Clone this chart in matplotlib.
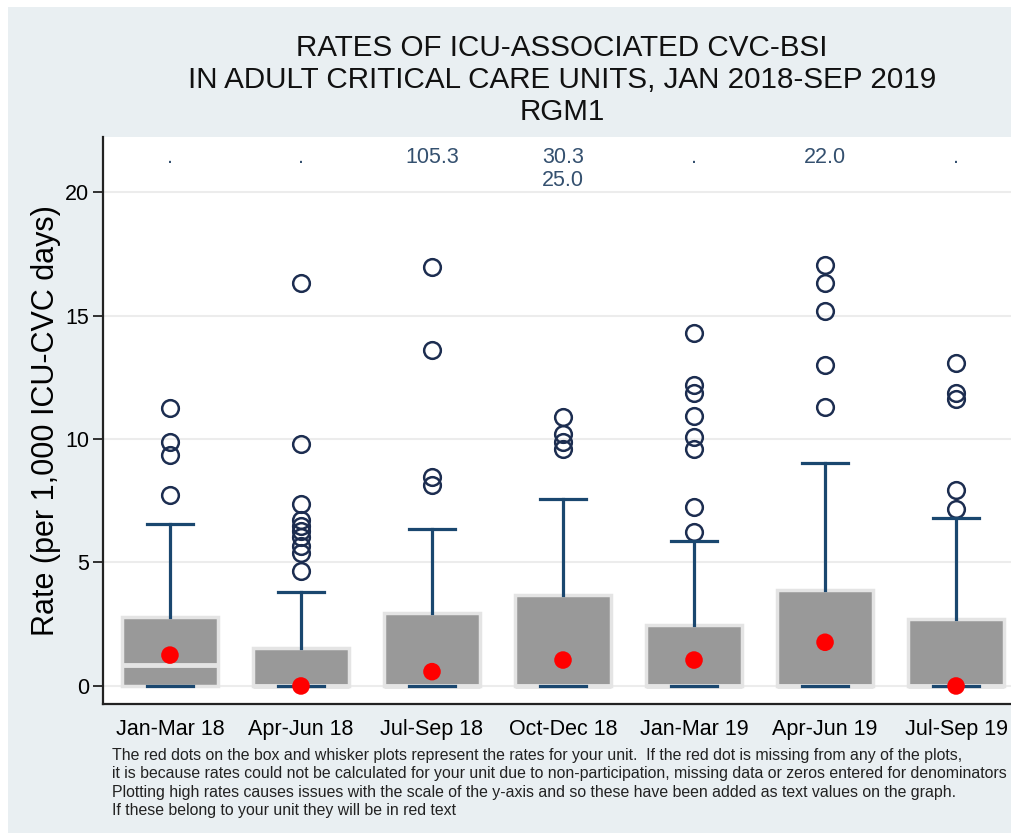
import matplotlib
matplotlib.use('Agg')
import matplotlib.pyplot as plt
from matplotlib.patches import Rectangle

plt.rcParams['font.family'] = ['Liberation Sans', 'DejaVu Sans']

# values
periods = ['Jan-Mar 18', 'Apr-Jun 18', 'Jul-Sep 18', 'Oct-Dec 18',
           'Jan-Mar 19', 'Apr-Jun 19', 'Jul-Sep 19']
q1 = [0, 0, 0, 0, 0, 0, 0]
medians = [0.85, 0, 0, 0, 0, 0, 0]
q3 = [2.78, 1.54, 2.94, 3.68, 2.46, 3.89, 2.70]
whisk_lo = [0, 0, 0, 0, 0, 0, 0]
whisk_hi = [6.56, 3.80, 6.37, 7.56, 5.86, 9.04, 6.82]
outliers = [
    [11.24, 9.88, 9.35, 7.73],
    [16.3, 9.8, 7.36, 6.72, 6.49, 6.28, 6.05, 5.68, 5.4, 4.66],
    [16.96, 13.6, 8.45, 8.12],
    [10.9, 10.2, 9.89, 9.58],
    [14.29, 12.18, 11.85, 10.93, 10.1, 9.58, 7.26, 6.25],
    [17.04, 16.3, 15.2, 13.0, 11.31],
    [13.08, 11.87, 11.64, 7.94, 7.15],
]
unit_rate = [1.25, 0.0, 0.58, 1.05, 1.05, 1.77, 0.0]
high_rates = [[], [], ['105.3'], ['30.3', '25.0'], [], ['22.0'], []]

title = ('RATES OF ICU-ASSOCIATED CVC-BSI\n'
         'IN ADULT CRITICAL CARE UNITS, JAN 2018-SEP 2019\nRGM1')
note = ('The red dots on the box and whisker plots represent the rates for your unit.  '
        'If the red dot is missing from any of the plots,\n'
        'it is because rates could not be calculated for your unit due to non-participation, '
        'missing data or zeros entered for denominators\n'
        'Plotting high rates causes issues with the scale of the y-axis and so these have been '
        'added as text values on the graph.\n'
        'If these belong to your unit they will be in red text')

navy = '#1a476f'
bg = '#e9eff2'

fig = plt.figure(figsize=(10.12, 8.34), dpi=100)
fig.patch.set_facecolor('white')
fig.patches.append(Rectangle((8 / 1012, 1 / 834), 1, 826 / 834, transform=fig.transFigure,
                             facecolor=bg, edgecolor='none', zorder=-10))

ax = fig.add_axes([103 / 1012, 130 / 834, 1 - 103 / 1012, 567 / 834])
ax.set_facecolor('white')

pos = list(range(1, len(periods) + 1))
stats = []
for i in range(len(periods)):
    stats.append({'label': periods[i], 'q1': q1[i], 'med': medians[i], 'q3': q3[i],
                  'whislo': whisk_lo[i], 'whishi': whisk_hi[i], 'fliers': outliers[i]})

ax.bxp(stats, positions=pos, widths=0.73, patch_artist=True, capwidths=0.35,
       boxprops=dict(facecolor='#999999', edgecolor='#e4e4e4', linewidth=2.5),
       medianprops=dict(color='#e4e4e4', linewidth=3.5, zorder=2.5),
       whiskerprops=dict(color=navy, linewidth=2.3),
       capprops=dict(color=navy, linewidth=2.3, zorder=3),
       flierprops=dict(marker='o', markerfacecolor='none', markeredgecolor='#1c2d50',
                       markersize=12, markeredgewidth=1.8))

ax.scatter(pos, unit_rate, s=160, color='#ff0000', zorder=5, edgecolors='none')

for i, vals in enumerate(high_rates):
    if not vals:
        vals = ['.']
    for j, v in enumerate(vals):
        ax.text(pos[i], 21.42 - 0.97 * j, v, ha='center', va='center',
                fontsize=15.5, color='#34506f')

ax.set_xlim(0.489, 7.427)
ax.set_ylim(-0.73, 22.23)
ax.set_yticks([0, 5, 10, 15, 20])
ax.set_xticks(pos)
ax.set_xticklabels(periods)
ax.tick_params(axis='y', length=7, width=1.3, labelsize=15.5, pad=3, color='#222222')
ax.tick_params(axis='x', length=0, labelsize=15.5, pad=11)
ax.grid(axis='y', color='#ececec', linewidth=1.5)
ax.set_axisbelow(True)
for s in ['top', 'right']:
    ax.spines[s].set_visible(False)
for s in ['left', 'bottom']:
    ax.spines[s].set_linewidth(1.6)
    ax.spines[s].set_color('#222222')
ax.set_ylabel('Rate (per 1,000 ICU-CVC days)', fontsize=22, labelpad=3)

fig.text(562 / 1012, 1 - 80 / 834, title, ha='center', va='center', fontsize=21.3,
         linespacing=1.2, color='#111111')
fig.text(112 / 1012, 1 - 783 / 834, note, ha='left', va='center', fontsize=11.4,
         linespacing=1.3, color='#222222')

fig.savefig('out.png', dpi=100, facecolor=fig.get_facecolor())
